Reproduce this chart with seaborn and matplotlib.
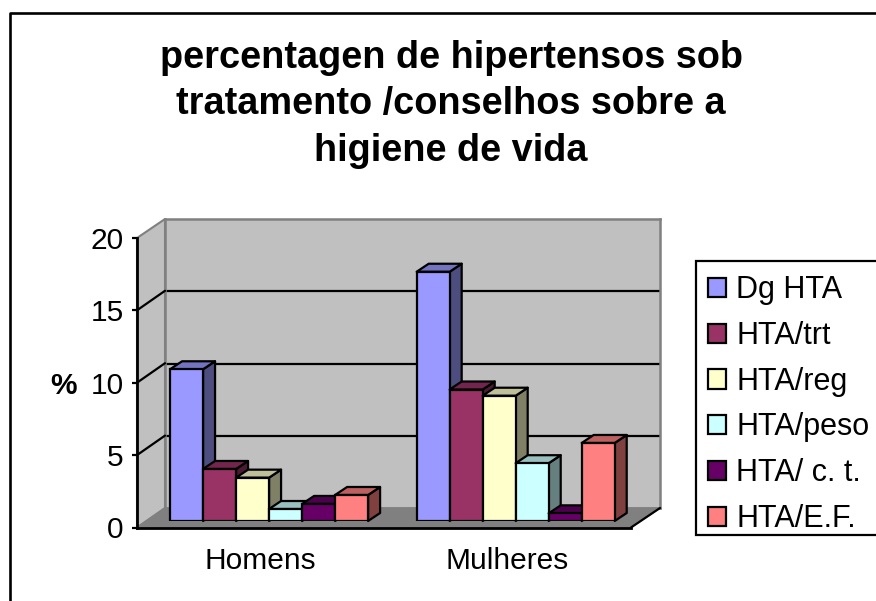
import matplotlib
matplotlib.use("Agg")
import matplotlib.pyplot as plt
from matplotlib.lines import Line2D
from matplotlib.patches import Rectangle
from matplotlib.colors import to_rgb
import pandas as pd
import seaborn as sns

grupos = ["Homens", "Mulheres"]
series = ["Dg HTA", "HTA/trt", "HTA/reg", "HTA/peso", "HTA/ c. t.", "HTA/E.F."]
cores = ["#9999FF", "#993366", "#FFFFCC", "#CCFFFF", "#660066", "#FF8080"]
homens = [10.5, 3.6, 3.0, 0.83, 1.18, 1.8]
mulheres = [17.25, 9.1, 8.67, 4.0, 0.53, 5.4]
yticks = [0, 5, 10, 15, 20]
titulo = "percentagen de hipertensos sob\ntratamento /conselhos sobre a\nhigiene de vida"

W, H = 876, 601
FONTE = 21.5

sns.set_theme(style="white")
plt.rcParams["font.family"] = ["Liberation Sans", "DejaVu Sans"]

df = pd.DataFrame({
    "grupo": [g for g in grupos for _ in series],
    "serie": series * 2,
    "valor": homens + mulheres,
})


# caixa em pixeis da imagem -> posicao do axes
def caixa(x0, x1, ytop, ybot):
    return [x0 / W, 1 - ybot / H, (x1 - x0) / W, (ybot - ytop) / H]


def fpt(x, y):
    return (x / W, 1 - y / H)


fig = plt.figure(figsize=(W / 100, H / 100), dpi=100, facecolor="white")

# parede do fundo
fundo = fig.add_axes(caixa(165, 660, 219, 508), zorder=0)
fundo.set_facecolor("#C0C0C0")
fundo.set_xlim(0, 1)
fundo.set_ylim(0, 20)
fundo.set_xticks([])
fundo.set_yticks(yticks[1:-1])
fundo.tick_params(left=False, labelleft=False)
fundo.grid(axis="y", color="black", linewidth=1.6)
for s in fundo.spines.values():
    s.set_color("#808080")
    s.set_linewidth(1.8)

# parede esquerda e chao
fig.add_artist(plt.Polygon([fpt(137, 527.5), fpt(165, 508), fpt(165, 219), fpt(137, 238)],
                           closed=True, facecolor="#C0C0C0", edgecolor="#808080", linewidth=1.5,
                           transform=fig.transFigure, zorder=0.2))
fig.add_artist(plt.Polygon([fpt(137, 527.5), fpt(631, 527.5), fpt(660, 508), fpt(165, 508)],
                           closed=True, facecolor="#808080", edgecolor="#808080", linewidth=1,
                           transform=fig.transFigure, zorder=0.3))
fig.add_artist(Line2D(*zip(fpt(631, 527.5), fpt(660, 508)), color="black", linewidth=1.6,
                      transform=fig.transFigure, zorder=0.4))
for v in yticks[1:-1]:
    yf = 527.5 - v * 14.48
    fig.add_artist(Line2D(*zip(fpt(137, yf), fpt(165, yf - 19.5)), color="black", linewidth=1.6,
                          transform=fig.transFigure, zorder=0.4))

# eixos da frente
frente = fig.add_axes(caixa(137, 631, 238, 527.5), zorder=1)
frente.patch.set_alpha(0)
frente.set_xlim(-0.5, 1.5)
frente.set_ylim(0, 20)
frente.set_xticks([0, 1])
frente.set_xticklabels(grupos)
frente.set_xticks([-0.5, 0.5, 1.5], minor=True)
frente.set_yticks(yticks)
frente.tick_params(axis="x", which="major", length=0, labelsize=FONTE, pad=14, colors="black")
frente.tick_params(axis="x", which="minor", length=3.6, width=1.6, color="black")
frente.tick_params(axis="y", length=3.6, width=1.6, left=True, labelsize=FONTE, pad=6, colors="black")
frente.set_ylabel("%", rotation=0, fontweight="bold", fontsize=FONTE, color="black", va="center", ha="center")
frente.yaxis.set_label_coords(-0.148, 0.489)
frente.spines["top"].set_visible(False)
frente.spines["right"].set_visible(False)
for lado in ["left", "bottom"]:
    frente.spines[lado].set_color("black")
    frente.spines[lado].set_linewidth(2)

# barras
ax = fig.add_axes(caixa(145.75, 639, 232, 521), zorder=2)
ax.patch.set_alpha(0)
sns.barplot(data=df, x="grupo", y="valor", hue="serie", hue_order=series, order=grupos,
            palette=cores, saturation=1, width=0.803, gap=0,
            edgecolor="black", linewidth=1.6, ax=ax)
handles, labels = ax.get_legend_handles_labels()
ax.get_legend().remove()
ax.set_xlim(-0.5, 1.5)
ax.set_ylim(0, 20)
ax.axis("off")

dx = 12 / 246.5
dy = 8 / 14.45
barras = sorted([p for p in ax.patches if p.get_height() > 0], key=lambda p: p.get_x())
for i, b in enumerate(barras):
    x0, x1 = b.get_x(), b.get_x() + b.get_width()
    h = b.get_height()
    r, g, bl = to_rgb(b.get_facecolor()[:3])
    lado = plt.Polygon([(x1, 0), (x1 + dx, dy), (x1 + dx, h + dy), (x1, h)], closed=True,
                       facecolor=(r * 0.5, g * 0.5, bl * 0.5), edgecolor="black", linewidth=1.6,
                       joinstyle="round", clip_on=False, zorder=3 + i * 3)
    topo = plt.Polygon([(x0, h), (x1, h), (x1 + dx, h + dy), (x0 + dx, h + dy)], closed=True,
                       facecolor=(r * 0.75, g * 0.75, bl * 0.75), edgecolor="black", linewidth=1.6,
                       joinstyle="round", clip_on=False, zorder=4 + i * 3)
    ax.add_patch(lado)
    ax.add_patch(topo)
    b.set_zorder(5 + i * 3)

fig.suptitle(titulo, x=451 / W, y=1 - 40 / H, va="top", ha="center", fontsize=27.3,
             fontweight="bold", color="black", linespacing=1.37)

# caixa da legenda cortada na margem direita, como no original
fig.add_artist(Rectangle(fpt(696, 535), 190 / W, 274 / H, facecolor="white", edgecolor="black",
                         linewidth=1.6, transform=fig.transFigure, zorder=4))
leg = fig.legend(handles, labels, loc="upper left", bbox_to_anchor=(696 / W, 1 - 263 / H),
                 borderaxespad=0, fontsize=22, handlelength=0.59, handleheight=0.59,
                 handletextpad=0.33, labelspacing=0.515, borderpad=0.4, frameon=False,
                 labelcolor="black")
leg.set_zorder(5)

# moldura do grafico
fig.add_artist(Line2D(*zip(fpt(9.5, H), fpt(9.5, 12.5), fpt(W, 12.5)), color="black", linewidth=1.9,
                      transform=fig.transFigure, zorder=6))

fig.savefig("out.png", dpi=100)
